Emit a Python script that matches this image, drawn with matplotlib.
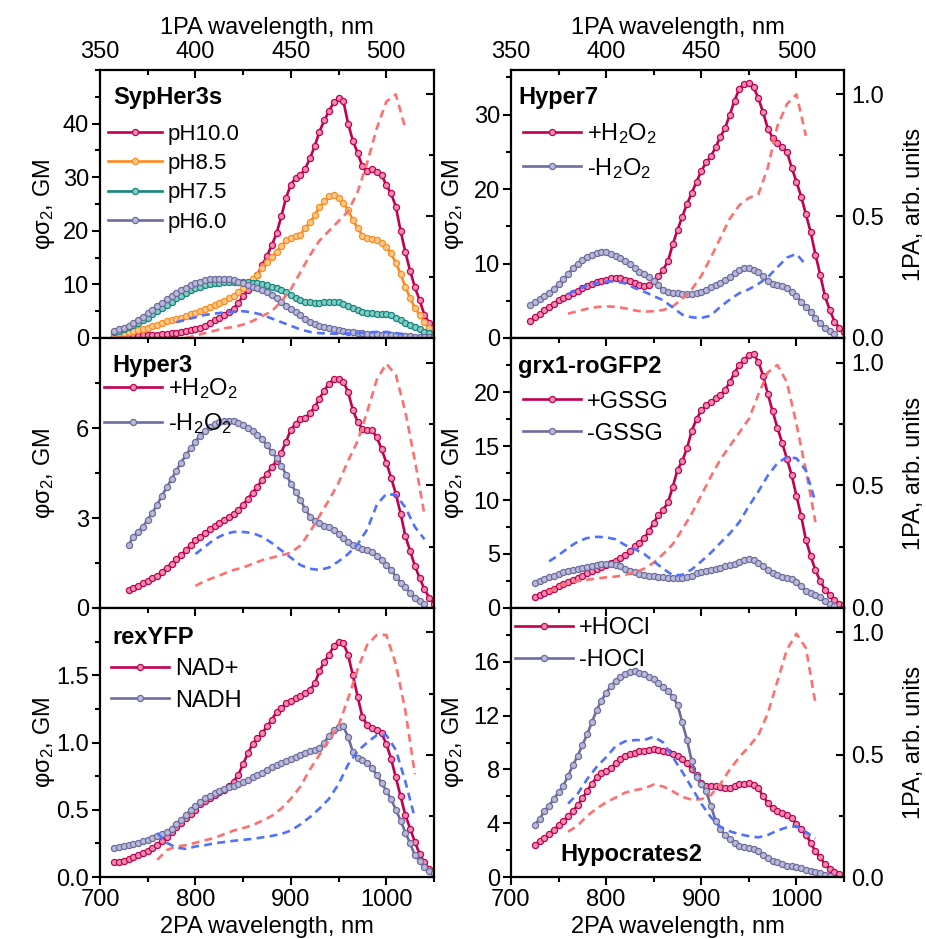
import numpy as np
import matplotlib.pyplot as plt
from matplotlib.ticker import MultipleLocator, FixedLocator, FormatStrFormatter

plt.rcParams['font.family'] = ['Liberation Sans', 'DejaVu Sans']
plt.rcParams['mathtext.fontset'] = 'custom'
plt.rcParams['mathtext.rm'] = 'Liberation Sans'
plt.rcParams['mathtext.it'] = 'Liberation Sans:italic'
plt.rcParams['mathtext.bf'] = 'Liberation Sans:bold'

# ---- data: 2PA spectra (phi*sigma2, GM) on 5 nm grid, 1PA spectra (arb. units) on 5 nm grid ----
# SypHer3s, 2PA from 715 nm
syp_start = 715
syp_ph100 = [0.4, 0.4, 0.4, 0.4, 0.4, 0.4, 0.5, 0.5, 0.6, 0.6, 0.7, 0.8, 0.9, 1.0, 1.1,
             1.3, 1.5, 1.7, 1.9, 2.3, 2.8, 3.3, 3.7, 4.2, 4.8, 5.5, 6.6, 7.8, 9.0, 10.5,
             11.8, 13.6, 15.3, 17.3, 19.5, 22.7, 26.2, 28.6, 29.9, 30.4, 31.6, 33.5, 35.8, 38.5, 40.6,
             42.3, 44.0, 44.7, 44.2, 40.0, 36.8, 34.5, 32.0, 31.2, 31.5, 31.0, 30.5, 28.5, 27.0, 24.5,
             20.0, 16.0, 12.5, 9.5, 7.0, 4.3, 2.8, 1.5]
syp_ph85 = [0.8, 0.9, 1.0, 1.1, 1.3, 1.5, 1.7, 1.9, 2.2, 2.5, 2.8, 3.1, 3.4, 3.6, 3.8,
            4.1, 4.4, 4.7, 5.0, 5.4, 5.8, 6.1, 6.5, 6.9, 7.4, 7.9, 8.6, 9.4, 10.3, 11.1,
            11.8, 13.0, 14.2, 15.1, 16.1, 17.2, 18.2, 18.7, 19.0, 19.3, 20.5, 21.6, 22.9, 24.4, 25.5,
            26.4, 26.7, 26.2, 25.2, 23.8, 22.0, 20.5, 19.1, 18.6, 18.4, 18.3, 17.8, 17.0, 15.8, 14.0,
            12.0, 9.5, 7.5, 5.6, 4.3, 2.9, 1.8, 1.0]
syp_ph75 = [1.1, 1.3, 1.6, 2.0, 2.4, 2.8, 3.3, 3.8, 4.4, 5.0, 5.6, 6.2, 6.8, 7.4, 7.9,
            8.4, 8.9, 9.3, 9.6, 9.9, 10.1, 10.2, 10.3, 10.4, 10.4, 10.4, 10.4, 10.4, 10.4, 10.3,
            10.2, 10.0, 9.8, 9.6, 9.4, 9.0, 8.6, 8.0, 7.4, 7.0, 6.8, 6.7, 6.6, 6.6, 6.7,
            6.8, 6.8, 6.7, 6.4, 6.0, 5.6, 5.2, 4.9, 4.7, 4.6, 4.5, 4.5, 4.4, 4.2, 3.7,
            3.3, 2.8, 2.4, 2.0, 1.6, 1.2, 0.9, 0.6]
syp_ph60 = [1.3, 1.6, 1.9, 2.3, 2.8, 3.3, 3.9, 4.6, 5.3, 6.0, 6.6, 7.2, 7.8, 8.4, 8.9,
            9.4, 9.8, 10.2, 10.5, 10.8, 11.0, 11.1, 11.1, 11.1, 11.0, 10.8, 10.5, 10.2, 9.9, 9.6,
            9.3, 9.0, 8.6, 8.1, 7.5, 6.8, 6.0, 5.4, 4.8, 4.2, 3.5, 3.0, 2.6, 2.3, 2.0,
            1.8, 1.7, 1.5, 1.3, 1.2, 1.1, 1.0, 0.9, 0.8, 0.7, 0.7, 0.6, 0.6, 0.5, 0.5,
            0.4, 0.3, 0.3, 0.2, 0.2, 0.1, 0.1, 0.1]
syp_1pa_red_start = 395
syp_1pa_red = [0.0, 0.01, 0.02, 0.03, 0.04, 0.045, 0.055, 0.07, 0.09, 0.11, 0.15, 0.2, 0.27, 0.34,
               0.40, 0.44, 0.48, 0.52, 0.6, 0.72, 0.86, 0.97, 1.0, 0.86]
syp_1pa_blue_start = 390
syp_1pa_blue = [0.065, 0.075, 0.085, 0.095, 0.1, 0.105, 0.108, 0.11, 0.105, 0.095, 0.08, 0.065, 0.05,
                0.035, 0.025, 0.02, 0.018, 0.017, 0.018, 0.02, 0.022, 0.025, 0.025, 0.02, 0.015]

# Hyper3, 2PA from 730 nm
hy3_start = 730
hy3_plus = [0.6, 0.67, 0.75, 0.83, 0.91, 1.0, 1.08, 1.2, 1.35, 1.48, 1.62, 1.77, 1.93, 2.1, 2.27,
            2.38, 2.5, 2.62, 2.73, 2.83, 2.93, 3.03, 3.15, 3.27, 3.45, 3.65, 3.85, 4.05, 4.27, 4.48,
            4.7, 4.9, 5.18, 5.55, 5.95, 6.15, 6.3, 6.34, 6.5, 6.7, 6.98, 7.25, 7.48, 7.63, 7.64,
            7.55, 7.2, 6.6, 6.2, 5.98, 5.93, 5.92, 5.7, 5.3, 4.85, 4.35, 3.8, 3.15, 2.4, 1.9,
            1.4, 1.0, 0.62, 0.35, 0.15]
hy3_minus = [2.1, 2.38, 2.55, 2.71, 2.95, 3.18, 3.45, 3.75, 4.02, 4.3, 4.58, 4.85, 5.1, 5.32, 5.55,
             5.75, 5.9, 6.05, 6.15, 6.2, 6.23, 6.23, 6.22, 6.17, 6.1, 6.0, 5.9, 5.77, 5.62, 5.42,
             5.2, 5.0, 4.75, 4.45, 4.15, 3.88, 3.6, 3.3, 3.05, 2.9, 2.82, 2.75, 2.7, 2.6, 2.48,
             2.35, 2.2, 2.1, 2.02, 1.98, 1.92, 1.88, 1.75, 1.6, 1.45, 1.28, 1.05, 0.85, 0.7, 0.5,
             0.33, 0.22, 0.14]
hy3_1pa_start = 400
hy3_1pa_red = [0.09, 0.11, 0.125, 0.14, 0.155, 0.165, 0.18, 0.195, 0.205, 0.215, 0.225, 0.255, 0.31,
               0.375, 0.44, 0.51, 0.6, 0.68, 0.8, 0.93, 0.995, 0.95, 0.8, 0.6, 0.38]
hy3_1pa_blue = [0.22, 0.25, 0.28, 0.3, 0.31, 0.31, 0.305, 0.29, 0.265, 0.235, 0.205, 0.175, 0.16,
                0.155, 0.165, 0.19, 0.22, 0.26, 0.32, 0.42, 0.465, 0.46, 0.41, 0.33, 0.28]

# rexYFP, 2PA from 715 nm
rex_start = 715
rex_nad = [0.11, 0.115, 0.12, 0.135, 0.148, 0.16, 0.175, 0.19, 0.215, 0.24, 0.27, 0.3, 0.335, 0.37, 0.405,
           0.44, 0.47, 0.5, 0.54, 0.565, 0.59, 0.61, 0.63, 0.65, 0.675, 0.71, 0.76, 0.84, 0.92, 0.99,
           1.03, 1.07, 1.12, 1.17, 1.225, 1.26, 1.29, 1.31, 1.33, 1.345, 1.365, 1.39, 1.44, 1.53, 1.6,
           1.65, 1.72, 1.75, 1.74, 1.65, 1.5, 1.34, 1.19, 1.13, 1.105, 1.09, 1.07, 0.99, 0.88, 0.74,
           0.6, 0.46, 0.36, 0.26, 0.17, 0.11, 0.06, 0.03]
rex_nadh = [0.215, 0.22, 0.228, 0.238, 0.246, 0.255, 0.265, 0.278, 0.29, 0.305, 0.32, 0.335, 0.36, 0.395, 0.425,
            0.46, 0.5, 0.53, 0.56, 0.585, 0.605, 0.625, 0.64, 0.655, 0.67, 0.68, 0.695, 0.705, 0.72, 0.74,
            0.755, 0.775, 0.795, 0.82, 0.835, 0.85, 0.865, 0.88, 0.895, 0.91, 0.925, 0.935, 0.945, 0.96, 1.0,
            1.05, 1.09, 1.115, 1.12, 1.04, 0.93, 0.885, 0.87, 0.845, 0.81, 0.76, 0.7, 0.64, 0.58, 0.5,
            0.42, 0.33, 0.25, 0.16, 0.12, 0.075, 0.045, 0.03]
rex_1pa_start = 380
rex_1pa_red = [0.07, 0.11, 0.125, 0.13, 0.14, 0.15, 0.16, 0.175, 0.19, 0.2, 0.212, 0.23, 0.25, 0.28,
               0.32, 0.37, 0.44, 0.5, 0.56, 0.62, 0.73, 0.85, 0.95, 0.99, 0.99, 0.87, 0.68, 0.42]
rex_1pa_blue = [0.18, 0.14, 0.12, 0.115, 0.125, 0.13, 0.138, 0.143, 0.148, 0.152, 0.156, 0.162, 0.168, 0.176,
                0.19, 0.215, 0.245, 0.28, 0.32, 0.38, 0.46, 0.515, 0.55, 0.58, 0.58, 0.52, 0.39, 0.24]

# Hyper7, 2PA from 720 nm
hy7_start = 720
hy7_plus = [2.3, 2.8, 3.2, 3.7, 4.2, 4.6, 5.1, 5.4, 5.7, 6.0, 6.35, 6.65, 7.0, 7.25, 7.5,
            7.7, 7.85, 8.0, 8.05, 8.0, 7.85, 7.6, 7.35, 7.15, 7.05, 7.1, 7.6, 8.3, 9.2, 10.3,
            12.6, 14.5, 16.3, 18.0, 19.5, 21.0, 22.4, 23.6, 24.4, 25.6, 27.0, 28.2, 30.0, 31.9, 33.5,
            34.1, 34.2, 33.7, 32.2, 30.3, 28.1, 26.9, 26.2, 25.7, 25.0, 22.9, 21.0, 19.0, 16.6, 14.2,
            11.2, 8.5, 5.6, 3.8, 2.2, 1.4, 0.8]
hy7_minus = [4.4, 4.8, 5.2, 5.6, 6.1, 6.6, 7.2, 7.9, 8.6, 9.4, 10.0, 10.5, 10.9, 11.2, 11.4,
             11.5, 11.5, 11.3, 11.0, 10.7, 10.3, 9.9, 9.4, 8.9, 8.6, 8.2, 7.7, 7.1, 6.5, 6.2,
             6.05, 6.0, 5.95, 5.95, 5.95, 6.0, 6.2, 6.4, 6.8, 7.1, 7.4, 7.8, 8.2, 8.7, 9.1,
             9.35, 9.35, 9.2, 8.8, 8.3, 7.6, 7.3, 7.15, 7.0, 6.7, 6.2, 5.6, 4.9, 4.2, 3.5,
             2.7, 2.0, 1.4, 1.0, 0.6]
hy7_1pa_start = 380
hy7_1pa_red = [0.1, 0.11, 0.12, 0.127, 0.13, 0.128, 0.122, 0.113, 0.108, 0.11, 0.115, 0.13, 0.16,
               0.2, 0.255, 0.33, 0.41, 0.49, 0.545, 0.575, 0.59, 0.7, 0.87, 0.96, 1.0, 0.83]
hy7_1pa_blue = [0.18, 0.2, 0.215, 0.225, 0.232, 0.232, 0.224, 0.205, 0.19, 0.172, 0.155, 0.125, 0.096,
                0.085, 0.082, 0.092, 0.128, 0.158, 0.184, 0.2, 0.222, 0.25, 0.29, 0.33, 0.345, 0.3]

# grx1-roGFP2, 2PA from 725 nm
grx_start = 725
grx_plus = [1.05, 1.2, 1.4, 1.6, 1.8, 2.0, 2.2, 2.4, 2.6, 2.8, 3.0, 3.2, 3.45, 3.65, 3.8,
            4.0, 4.15, 4.35, 4.6, 4.9, 5.3, 5.7, 6.05, 6.5, 7.1, 7.9, 8.6, 9.1, 9.8, 11.2,
            12.8, 13.6, 14.8, 16.4, 17.5, 18.3, 18.8, 19.1, 19.4, 19.7, 20.2, 20.9, 21.8, 22.5, 23.0,
            23.4, 23.5, 22.8, 21.5, 19.8, 18.2, 16.7, 15.3, 13.8, 12.3, 10.4, 8.5, 6.3, 4.8, 3.5,
            2.5, 1.7, 1.2, 0.7, 0.4, 0.3]
grx_minus = [2.3, 2.5, 2.7, 2.85, 3.0, 3.15, 3.3, 3.4, 3.5, 3.6, 3.7, 3.8, 3.9, 3.95, 4.05,
             4.1, 4.1, 4.0, 3.85, 3.65, 3.45, 3.3, 3.15, 3.05, 3.0, 2.95, 2.9, 2.85, 2.8, 2.75,
             2.75, 2.8, 2.85, 3.0, 3.2, 3.35, 3.45, 3.55, 3.65, 3.75, 3.85, 3.95, 4.1, 4.3, 4.45,
             4.5, 4.45, 4.2, 3.85, 3.55, 3.25, 3.05, 2.9, 2.8, 2.7, 2.4, 2.05, 1.6, 1.4, 1.2,
             1.0, 0.65, 0.4, 0.2]
grx_1pa_start = 370
grx_1pa_red = [0.065, 0.09, 0.1, 0.11, 0.115, 0.12, 0.125, 0.128, 0.135, 0.145, 0.16, 0.185, 0.22, 0.26,
               0.32, 0.385, 0.46, 0.535, 0.605, 0.66, 0.715, 0.77, 0.87, 0.96, 0.99, 0.92, 0.75, 0.56, 0.35]
grx_1pa_blue = [0.19, 0.215, 0.245, 0.27, 0.285, 0.29, 0.288, 0.28, 0.256, 0.24, 0.22, 0.19, 0.16, 0.133,
                0.135, 0.157, 0.19, 0.225, 0.265, 0.304, 0.35, 0.415, 0.475, 0.54, 0.59, 0.615, 0.61, 0.56, 0.43]

# Hypocrates2, 2PA from 725 nm
hoc_start = 725
hoc_plus = [2.4, 2.65, 2.9, 3.2, 3.5, 3.85, 4.2, 4.5, 4.9, 5.35, 5.85, 6.4, 6.95, 7.4, 7.7,
            7.9, 8.1, 8.45, 8.75, 9.0, 9.15, 9.25, 9.35, 9.4, 9.45, 9.5, 9.45, 9.4, 9.3, 9.15,
            9.0, 8.75, 8.45, 8.0, 7.55, 7.0, 6.8, 6.75, 6.75, 6.7, 6.6, 6.65, 6.8, 6.9, 6.95,
            7.0, 6.85, 6.6, 6.0, 5.5, 5.1, 4.9, 4.75, 4.6, 4.4, 3.95, 3.55, 3.15, 2.55, 1.9,
            1.45, 0.95, 0.6, 0.35, 0.2]
hoc_minus = [3.9, 4.3, 4.9, 5.3, 5.8, 6.3, 6.8, 7.5, 8.3, 9.0, 9.8, 10.6, 11.5, 12.4, 13.1,
             13.7, 14.2, 14.6, 14.9, 15.1, 15.25, 15.3, 15.2, 15.1, 14.9, 14.7, 14.4, 14.1, 13.8, 13.4,
             12.8, 11.5, 10.2, 8.6, 7.4, 6.9, 6.4, 5.3, 4.2, 3.6, 3.1, 2.8, 2.55, 2.3, 2.2,
             2.15, 2.05, 1.9, 1.6, 1.4, 1.2, 1.1, 0.95, 0.85, 0.8, 0.75, 0.65, 0.5, 0.45, 0.38,
             0.28, 0.18, 0.08]
hoc_1pa_start = 380
hoc_1pa_red = [0.185, 0.21, 0.25, 0.28, 0.305, 0.325, 0.345, 0.355, 0.362, 0.378, 0.37, 0.35, 0.328, 0.316,
               0.318, 0.335, 0.38, 0.44, 0.49, 0.533, 0.58, 0.67, 0.8, 0.93, 0.995, 0.936, 0.71]
hoc_1pa_blue = [0.3, 0.34, 0.4, 0.45, 0.49, 0.535, 0.555, 0.56, 0.56, 0.574, 0.55, 0.49, 0.43, 0.365,
                0.3, 0.245, 0.205, 0.187, 0.175, 0.167, 0.162, 0.172, 0.19, 0.203, 0.208, 0.184, 0.157]

CRIMSON = ('#c2004f', '#ee8fb2')
ORANGE = ('#ff8a1c', '#ffc98f')
TEAL = ('#12877c', '#86cbc4')
PURPLE = ('#6c6c9e', '#babad8')
RED_D = '#ff6f6f'
BLUE_D = '#5070ff'

W, H = 926, 939
fig = plt.figure(figsize=(W / 100, H / 100), dpi=100)

col_left = [100, 511]
col_width = [334, 333]
row_top = [70, 338, 608]
row_h = [268, 270, 269]


def grid(start, vals):
    return start + 5 * np.arange(len(vals))


def make_panel(row, col, ymax, yticks, yminor, fmt):
    pos = [col_left[col] / W, 1 - (row_top[row] + row_h[row]) / H,
           col_width[col] / W, row_h[row] / H]
    ax = fig.add_axes(pos)
    ax.set_xlim(700, 1050)
    ax.set_ylim(0, ymax)
    ax.xaxis.set_major_locator(MultipleLocator(100))
    ax.xaxis.set_minor_locator(MultipleLocator(50))
    ax.yaxis.set_major_locator(FixedLocator(yticks))
    ax.yaxis.set_minor_locator(MultipleLocator(yminor))
    ax.yaxis.set_major_formatter(FormatStrFormatter(fmt))
    ax.tick_params(which='both', direction='out', top=False, right=False,
                   width=1.5, labelsize=17, pad=2)
    ax.tick_params(which='major', length=6)
    ax.tick_params(which='minor', length=3.5)
    ax.tick_params(axis='x', pad=3)
    if row < 2:
        ax.tick_params(labelbottom=False)
    else:
        ax.set_xlabel('2PA wavelength, nm', fontsize=17, labelpad=3)
    for s in ax.spines.values():
        s.set_linewidth(1.6)
    ax.set_ylabel('φσ$_2$, GM', fontsize=17)
    ax.yaxis.set_label_coords(-0.128 if col == 0 else -0.135, 0.5)

    a1 = fig.add_axes(pos, frameon=False)
    a1.set_xlim(350, 525)
    a1.set_ylim(0, 1.1)
    a1.xaxis.tick_top()
    a1.yaxis.tick_right()
    a1.xaxis.set_major_locator(MultipleLocator(50))
    a1.xaxis.set_minor_locator(MultipleLocator(25))
    a1.yaxis.set_major_locator(FixedLocator([0, 0.5, 1.0]))
    a1.yaxis.set_minor_locator(FixedLocator([0.25, 0.75]))
    a1.yaxis.set_major_formatter(FormatStrFormatter('%.1f'))
    a1.tick_params(which='both', direction='in', width=1.5, labelsize=17, pad=5)
    a1.tick_params(which='major', length=6)
    a1.tick_params(which='minor', length=3.5)
    if row > 0:
        a1.tick_params(labeltop=False)
    else:
        a1.xaxis.set_label_position('top')
        a1.set_xlabel('1PA wavelength, nm', fontsize=17, labelpad=5)
    if col == 0:
        a1.tick_params(labelright=False)
    else:
        a1.yaxis.set_label_position('right')
        a1.set_ylabel('1PA, arb. units', fontsize=17)
        a1.yaxis.set_label_coords(1.177, 0.5)
    return ax, a1


def solid(ax, start, vals, color, label):
    ax.plot(grid(start, vals), vals, '-', color=color[0], lw=1.9, marker='o', ms=4.4,
            mfc=color[1], mec=color[0], mew=0.9, label=label, clip_on=True)


def dashed(a1, start, vals, color):
    a1.plot(grid(start, vals), vals, '--', color=color, lw=1.9, dashes=(3, 2))


def legend(ax, x, y, size=17, spacing=0.3):
    ax.legend(loc='upper left', bbox_to_anchor=(x, y), frameon=False, fontsize=size,
              handlelength=2.45, handletextpad=0.25, labelspacing=spacing,
              borderaxespad=0, borderpad=0, numpoints=1)


# SypHer3s
ax, a1 = make_panel(0, 0, 50, [0, 10, 20, 30, 40], 5, '%g')
solid(ax, syp_start, syp_ph100, CRIMSON, 'pH10.0')
solid(ax, syp_start, syp_ph85, ORANGE, 'pH8.5')
solid(ax, syp_start, syp_ph75, TEAL, 'pH7.5')
solid(ax, syp_start, syp_ph60, PURPLE, 'pH6.0')
dashed(a1, syp_1pa_red_start, syp_1pa_red, RED_D)
dashed(a1, syp_1pa_blue_start, syp_1pa_blue, BLUE_D)
ax.text(0.039, 0.896, 'SypHer3s', transform=ax.transAxes, fontsize=17,
        fontweight='bold', va='center', ha='left')
legend(ax, 0.024, 0.80, size=16, spacing=0.38)

# Hyper3
ax, a1 = make_panel(1, 0, 9, [0, 3, 6], 1.5, '%g')
solid(ax, hy3_start, hy3_plus, CRIMSON, '+H$_2$O$_2$')
solid(ax, hy3_start, hy3_minus, PURPLE, '-H$_2$O$_2$')
dashed(a1, hy3_1pa_start, hy3_1pa_red, RED_D)
dashed(a1, hy3_1pa_start, hy3_1pa_blue, BLUE_D)
ax.text(0.036, 0.9, 'Hyper3', transform=ax.transAxes, fontsize=17,
        fontweight='bold', va='center', ha='left')
legend(ax, 0.012, 0.86, spacing=0.45)

# rexYFP
ax, a1 = make_panel(2, 0, 2.0, [0, 0.5, 1.0, 1.5], 0.25, '%.1f')
solid(ax, rex_start, rex_nad, CRIMSON, 'NAD+')
solid(ax, rex_start, rex_nadh, PURPLE, 'NADH')
dashed(a1, rex_1pa_start, rex_1pa_red, RED_D)
dashed(a1, rex_1pa_start, rex_1pa_blue, BLUE_D)
ax.text(0.036, 0.892, 'rexYFP', transform=ax.transAxes, fontsize=17,
        fontweight='bold', va='center', ha='left')
legend(ax, 0.033, 0.815, spacing=0.42)

# Hyper7
ax, a1 = make_panel(0, 1, 36, [0, 10, 20, 30], 5, '%g')
solid(ax, hy7_start, hy7_plus, CRIMSON, '+H$_2$O$_2$')
solid(ax, hy7_start, hy7_minus, PURPLE, '-H$_2$O$_2$')
dashed(a1, hy7_1pa_start, hy7_1pa_red, RED_D)
dashed(a1, hy7_1pa_start, hy7_1pa_blue, BLUE_D)
ax.text(0.021, 0.896, 'Hyper7', transform=ax.transAxes, fontsize=17,
        fontweight='bold', va='center', ha='left')
legend(ax, 0.036, 0.81, spacing=0.42)

# grx1-roGFP2
ax, a1 = make_panel(1, 1, 25, [0, 5, 10, 15, 20], 2.5, '%g')
solid(ax, grx_start, grx_plus, CRIMSON, '+GSSG')
solid(ax, grx_start, grx_minus, PURPLE, '-GSSG')
dashed(a1, grx_1pa_start, grx_1pa_red, RED_D)
dashed(a1, grx_1pa_start, grx_1pa_blue, BLUE_D)
ax.text(0.021, 0.893, 'grx1-roGFP2', transform=ax.transAxes, fontsize=17,
        fontweight='bold', va='center', ha='left')
legend(ax, 0.036, 0.805, spacing=0.42)

# Hypocrates2
ax, a1 = make_panel(2, 1, 20, [0, 4, 8, 12, 16], 2, '%g')
solid(ax, hoc_start, hoc_plus, CRIMSON, '+HOCl')
solid(ax, hoc_start, hoc_minus, PURPLE, '-HOCl')
dashed(a1, hoc_1pa_start, hoc_1pa_red, RED_D)
dashed(a1, hoc_1pa_start, hoc_1pa_blue, BLUE_D)
ax.text(0.147, 0.082, 'Hypocrates2', transform=ax.transAxes, fontsize=17,
        fontweight='bold', va='center', ha='left')
legend(ax, 0.012, 0.965, spacing=0.42)

fig.savefig('out.png', dpi=100)
